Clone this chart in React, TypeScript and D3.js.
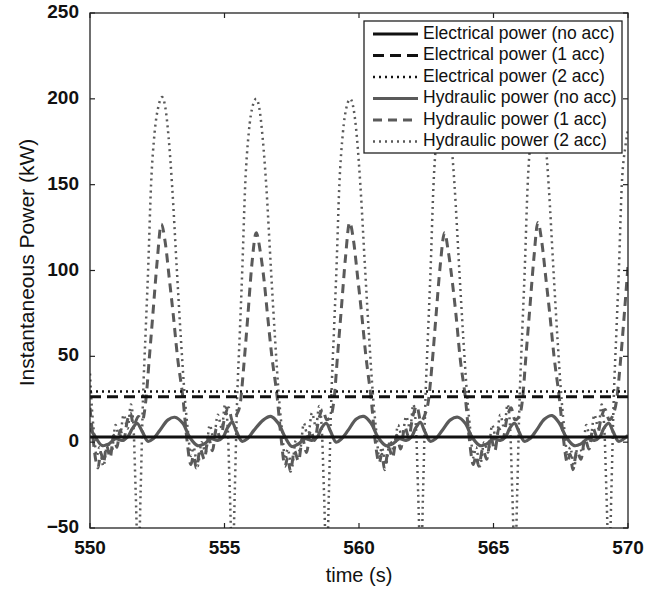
import React from 'react';
import * as d3 from 'd3';

const xTicks = [550, 555, 560, 565, 570];
const yTicks = [-50, 0, 50, 100, 150, 200, 250];

const elecTime = [550, 570];
const elecNoAcc = [3, 3];
const elec1Acc = [26.5, 26.5];
const elec2Acc = [29.5, 29.5];

const hydNoAcc: [number, number][] = [
  [550.0, 8], [550.2, 3], [550.45, -2], [550.7, -1], [550.95, 2], [551.2, 1], [551.4, 3], [551.58, 8], [551.75, 11],
  [551.95, 6], [552.15, 0.5], [552.35, 2], [552.6, 7], [552.9, 13], [553.15, 14.5], [553.45, 11], [553.7, 3],
  [554.0, -2], [554.25, -1], [554.5, 2], [554.75, 1], [554.95, 3], [555.1, 8], [555.28, 11.5], [555.45, 6],
  [555.65, 0.5], [555.85, 2], [556.1, 7], [556.45, 13], [556.72, 15], [557.0, 11], [557.25, 3], [557.5, -2.5],
  [557.75, -1], [558.0, 2], [558.25, 1], [558.45, 3], [558.6, 8], [558.78, 11], [558.95, 6], [559.15, 0],
  [559.35, 2], [559.6, 7], [559.9, 13.5], [560.18, 15], [560.45, 11], [560.7, 3], [561.0, -2], [561.25, -1],
  [561.5, 2], [561.75, 1], [561.95, 3], [562.1, 8], [562.28, 11.5], [562.45, 6], [562.65, 0.5], [562.85, 2],
  [563.1, 7], [563.4, 13], [563.68, 14.5], [563.95, 11], [564.2, 3], [564.5, -2], [564.75, -1], [565.0, 2],
  [565.25, 1], [565.45, 3], [565.6, 8], [565.78, 11], [565.95, 6], [566.15, 0.5], [566.35, 2], [566.6, 7],
  [566.9, 13.5], [567.18, 15.5], [567.45, 11], [567.7, 3], [568.0, -2], [568.25, -1], [568.5, 2], [568.75, 1],
  [568.95, 3], [569.1, 8], [569.28, 11], [569.45, 6], [569.65, 0.5], [569.85, 2], [570.0, 4],
];

const hyd1Acc: [number, number][] = [
  [550.0, 20], [550.1, 4], [550.22, -11], [550.3, -15], [550.4, -6], [550.5, -12], [550.62, -2], [550.75, -9],
  [550.88, 4], [551.0, -3], [551.12, 7], [551.25, 1], [551.38, 12], [551.5, 17], [551.62, 10], [551.8, 15],
  [551.95, 13], [552.08, 25], [552.2, 48], [552.34, 75], [552.5, 106], [552.65, 127], [552.8, 116], [552.95, 95],
  [553.09, 75], [553.25, 50], [553.46, 25], [553.6, 2], [553.75, -13], [553.85, -8], [553.95, -15], [554.1, -4],
  [554.25, -10], [554.4, 3], [554.55, -5], [554.7, 8], [554.85, 2], [555.0, 14], [555.15, 20], [555.3, 12],
  [555.45, 16], [555.58, 22], [555.72, 45], [555.86, 72], [556.02, 104], [556.18, 122], [556.32, 112],
  [556.48, 93], [556.6, 74], [556.76, 50], [556.96, 26], [557.1, 3], [557.25, -14], [557.35, -9], [557.45, -17],
  [557.6, -5], [557.75, -11], [557.9, 2], [558.05, -6], [558.2, 7], [558.35, 1], [558.5, 13], [558.65, 19],
  [558.8, 13], [558.95, 15], [559.08, 26], [559.2, 50], [559.34, 77], [559.5, 108], [559.65, 128], [559.8, 117],
  [559.95, 96], [560.09, 76], [560.25, 51], [560.46, 24], [560.6, 1], [560.75, -12], [560.85, -7], [560.95, -16],
  [561.1, -3], [561.25, -9], [561.4, 4], [561.55, -4], [561.7, 9], [561.85, 3], [562.0, 15], [562.15, 21],
  [562.3, 12], [562.45, 16], [562.58, 24], [562.72, 46], [562.86, 73], [563.02, 103], [563.18, 122], [563.32, 111],
  [563.48, 92], [563.6, 75], [563.76, 49], [563.96, 25], [564.1, 2], [564.25, -13], [564.35, -8], [564.45, -14],
  [564.6, -4], [564.75, -10], [564.9, 3], [565.05, -5], [565.2, 8], [565.35, 2], [565.5, 14], [565.65, 20],
  [565.8, 13], [565.95, 15], [566.08, 25], [566.2, 49], [566.34, 76], [566.5, 107], [566.65, 128], [566.8, 116],
  [566.95, 95], [567.09, 75], [567.25, 50], [567.46, 24], [567.6, 2], [567.75, -12], [567.85, -7], [567.95, -16],
  [568.1, -5], [568.25, -10], [568.4, 2], [568.55, -4], [568.7, 8], [568.85, 3], [569.0, 14], [569.15, 19],
  [569.3, 13], [569.45, 16], [569.58, 25], [569.72, 47], [569.86, 74], [570.0, 103],
];

const hyd2Acc: [number, number][] = [
  [550.0, 40], [550.05, 25], [550.15, 5], [550.25, -8], [550.35, -3], [550.5, -14], [550.65, 0], [550.8, -6],
  [550.95, 10], [551.1, 2], [551.25, 16], [551.4, 8], [551.52, 22], [551.62, 8], [551.7, -30], [551.8, -75],
  [551.88, -30], [551.97, 25], [552.07, 65], [552.16, 100], [552.27, 150], [552.4, 180], [552.55, 196],
  [552.68, 201], [552.8, 195], [552.92, 178], [553.05, 150], [553.23, 100], [553.38, 60], [553.53, 25],
  [553.65, 5], [553.75, -8], [553.85, -3], [554.0, -14], [554.15, 0], [554.3, -6], [554.45, 10], [554.6, 2],
  [554.75, 16], [554.9, 8], [555.02, 22], [555.12, 8], [555.2, -30], [555.3, -75], [555.38, -30], [555.47, 25],
  [555.57, 64], [555.66, 100], [555.77, 150], [555.9, 180], [556.05, 196], [556.18, 200], [556.3, 194],
  [556.42, 177], [556.55, 150], [556.73, 100], [556.88, 60], [557.03, 25], [557.15, 5], [557.25, -10],
  [557.35, -4], [557.5, -15], [557.65, 1], [557.8, -5], [557.95, 11], [558.1, 3], [558.25, 17], [558.4, 9],
  [558.52, 21], [558.62, 7], [558.7, -30], [558.8, -75], [558.88, -30], [558.97, 25], [559.07, 65], [559.16, 100],
  [559.27, 150], [559.4, 180], [559.55, 196], [559.68, 200], [559.8, 194], [559.92, 178], [560.05, 150],
  [560.23, 100], [560.38, 60], [560.53, 25], [560.65, 5], [560.75, -9], [560.85, -3], [561.0, -13], [561.15, 1],
  [561.3, -5], [561.45, 10], [561.6, 3], [561.75, 15], [561.9, 8], [562.02, 22], [562.12, 8], [562.2, -30],
  [562.3, -75], [562.38, -30], [562.47, 25], [562.57, 65], [562.66, 100], [562.77, 150], [562.9, 180],
  [563.05, 196], [563.18, 199], [563.3, 194], [563.42, 177], [563.55, 150], [563.73, 100], [563.88, 60],
  [564.03, 25], [564.15, 5], [564.25, -9], [564.35, -3], [564.5, -14], [564.65, 0], [564.8, -6], [564.95, 10],
  [565.1, 2], [565.25, 16], [565.4, 8], [565.52, 22], [565.62, 8], [565.7, -30], [565.8, -75], [565.88, -30],
  [565.97, 25], [566.07, 65], [566.16, 100], [566.27, 150], [566.4, 180], [566.55, 196], [566.68, 199],
  [566.8, 194], [566.92, 178], [567.05, 150], [567.23, 100], [567.38, 60], [567.53, 25], [567.65, 5],
  [567.75, -8], [567.85, -3], [568.0, -14], [568.15, 0], [568.3, -6], [568.45, 10], [568.6, 2], [568.75, 16],
  [568.9, 8], [569.02, 22], [569.12, 8], [569.2, -30], [569.3, -75], [569.38, -30], [569.47, 25], [569.57, 65],
  [569.66, 100], [569.77, 150], [569.9, 172], [570.0, 182],
];

const legendLabels = [
  'Electrical power (no acc)',
  'Electrical power (1 acc)',
  'Electrical power (2 acc)',
  'Hydraulic power (no acc)',
  'Hydraulic power (1 acc)',
  'Hydraulic power (2 acc)',
];

const BLACK = '#111';
const GRAY = '#5a5a5a';
const FONT = 'Liberation Sans, Arial, Helvetica, sans-serif';

export default function App() {
  const L = 90, R = 628, T = 13, B = 528;
  const x = d3.scaleLinear().domain([550, 570]).range([L, R]);
  const y = d3.scaleLinear().domain([-50, 250]).range([B, T]);

  const smooth = d3.line<[number, number]>().x(d => x(d[0])).y(d => y(d[1])).curve(d3.curveCatmullRom.alpha(0.5));
  const lin = d3.line<[number, number]>().x(d => x(d[0])).y(d => y(d[1])).curve(d3.curveMonotoneX);
  const elec = (vals: number[]) => lin(elecTime.map((t, i) => [t, vals[i]] as [number, number])) || '';

  const styles = [
    { stroke: BLACK, width: 3, dash: undefined as string | undefined },
    { stroke: BLACK, width: 3, dash: '11,6' },
    { stroke: BLACK, width: 2.5, dash: '2,4' },
    { stroke: GRAY, width: 3.2, dash: undefined as string | undefined },
    { stroke: GRAY, width: 3, dash: '9,6' },
    { stroke: GRAY, width: 2.5, dash: '2,4' },
  ];

  const paths = [
    elec(elecNoAcc),
    elec(elec1Acc),
    elec(elec2Acc),
    smooth(hydNoAcc) || '',
    lin(hyd1Acc) || '',
    lin(hyd2Acc) || '',
  ];
  const drawOrder = [5, 4, 3, 2, 1, 0];

  const legX = 364, legY = 21, legW = 258, legH = 132, rowH = 21.5;

  return (
    <svg width={655} height={592} style={{ position: 'absolute', left: 0, top: 0, background: '#fff' }} fontFamily={FONT}>
      <rect x={0} y={0} width={655} height={592} fill="#fff" />
      <defs>
        <clipPath id="plotClip">
          <rect x={L} y={T} width={R - L} height={B - T} />
        </clipPath>
      </defs>
      <g clipPath="url(#plotClip)">
        {drawOrder.map(i => (
          <path key={i} d={paths[i]} fill="none" stroke={styles[i].stroke} strokeWidth={styles[i].width}
            strokeDasharray={styles[i].dash} strokeLinejoin="round" />
        ))}
      </g>
      <rect x={L} y={T} width={R - L} height={B - T} fill="none" stroke="#222" strokeWidth={1.3} />
      {xTicks.map(t => (
        <g key={'x' + t}>
          <line x1={x(t)} x2={x(t)} y1={B} y2={B - 5} stroke="#222" strokeWidth={1.2} />
          <line x1={x(t)} x2={x(t)} y1={T} y2={T + 5} stroke="#222" strokeWidth={1.2} />
          <text x={x(t)} y={B + 21} textAnchor="middle" dominantBaseline="middle" fontSize={19} fontWeight="bold" fill="#111">{t}</text>
        </g>
      ))}
      {yTicks.map(t => (
        <g key={'y' + t}>
          <line x1={L} x2={L + 5} y1={y(t)} y2={y(t)} stroke="#222" strokeWidth={1.2} />
          <line x1={R} x2={R - 5} y1={y(t)} y2={y(t)} stroke="#222" strokeWidth={1.2} />
          <text x={L - 11} y={y(t)} textAnchor="end" dominantBaseline="middle" fontSize={19} fontWeight="bold" fill="#111">{t < 0 ? '\u2212' + Math.abs(t) : t}</text>
        </g>
      ))}
      <text x={(L + R) / 2} y={577} textAnchor="middle" dominantBaseline="middle" fontSize={20} fill="#111">time (s)</text>
      <text transform={`translate(28,${(T + B) / 2 - 8}) rotate(-90)`} textAnchor="middle" dominantBaseline="middle" fontSize={21} fill="#111">Instantaneous Power (kW)</text>
      <rect x={legX} y={legY} width={legW} height={legH} fill="#fff" stroke="#222" strokeWidth={1.3} />
      {legendLabels.map((lab, i) => {
        const cy = legY + 13 + i * rowH;
        return (
          <g key={lab}>
            <line x1={373} x2={418} y1={cy} y2={cy} stroke={styles[i].stroke} strokeWidth={styles[i].width} strokeDasharray={styles[i].dash} />
            <text x={423} y={cy} dominantBaseline="middle" fontSize={17.5} fill="#111">{lab}</text>
          </g>
        );
      })}
    </svg>
  );
}
